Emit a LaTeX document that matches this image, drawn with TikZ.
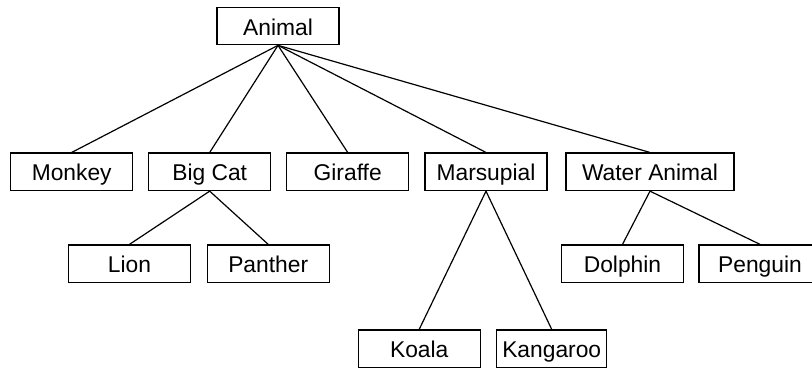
\documentclass[tikz,border=0pt]{standalone}
\usepackage{fontspec}
\setmainfont{Liberation Sans}
\tikzset{animal/.style={draw, minimum width=122pt, minimum height=37.5pt, inner sep=2pt, text height=19pt, text depth=1pt, font=\fontsize{22.8}{26}\selectfont}}

\begin{document}
\begin{tikzpicture}[line width=1.2pt]
\useasboundingbox (0pt,0pt) rectangle (812pt,368pt);
\node[animal] (animal) at (278pt,342pt) {Animal};
\node[animal] (monkey) at (71.7pt,196.2pt) {Monkey};
\node[animal] (bigcat) at (209.7pt,196.2pt) {Big Cat};
\node[animal] (giraffe) at (347.7pt,196.2pt) {Giraffe};
\node[animal] (marsupial) at (486pt,196.2pt) {Marsupial};
\node[animal,minimum width=168pt] (water) at (650pt,196.2pt) {Water Animal};
\node[animal] (lion) at (129.5pt,104.3pt) {Lion};
\node[animal] (panther) at (268.2pt,104.3pt) {Panther};
\node[animal] (dolphin) at (622.5pt,104.3pt) {Dolphin};
\node[animal] (penguin) at (760pt,104.3pt) {Penguin};
\node[animal] (koala) at (419.2pt,19.3pt) {Koala};
\node[animal,minimum width=110pt] (kangaroo) at (551.7pt,19.3pt) {Kangaroo};
% edges
\draw (animal.south) -- (monkey.north);
\draw (animal.south) -- (bigcat.north);
\draw (animal.south) -- (giraffe.north);
\draw (animal.south) -- (marsupial.north);
\draw (animal.south) -- (water.north);
\draw (bigcat.south) -- (lion.north);
\draw (bigcat.south) -- (panther.north);
\draw (marsupial.south) -- (koala.north);
\draw (marsupial.south) -- (kangaroo.north);
\draw (water.south) -- (dolphin.north);
\draw (water.south) -- (penguin.north);
\end{tikzpicture}
\end{document}
